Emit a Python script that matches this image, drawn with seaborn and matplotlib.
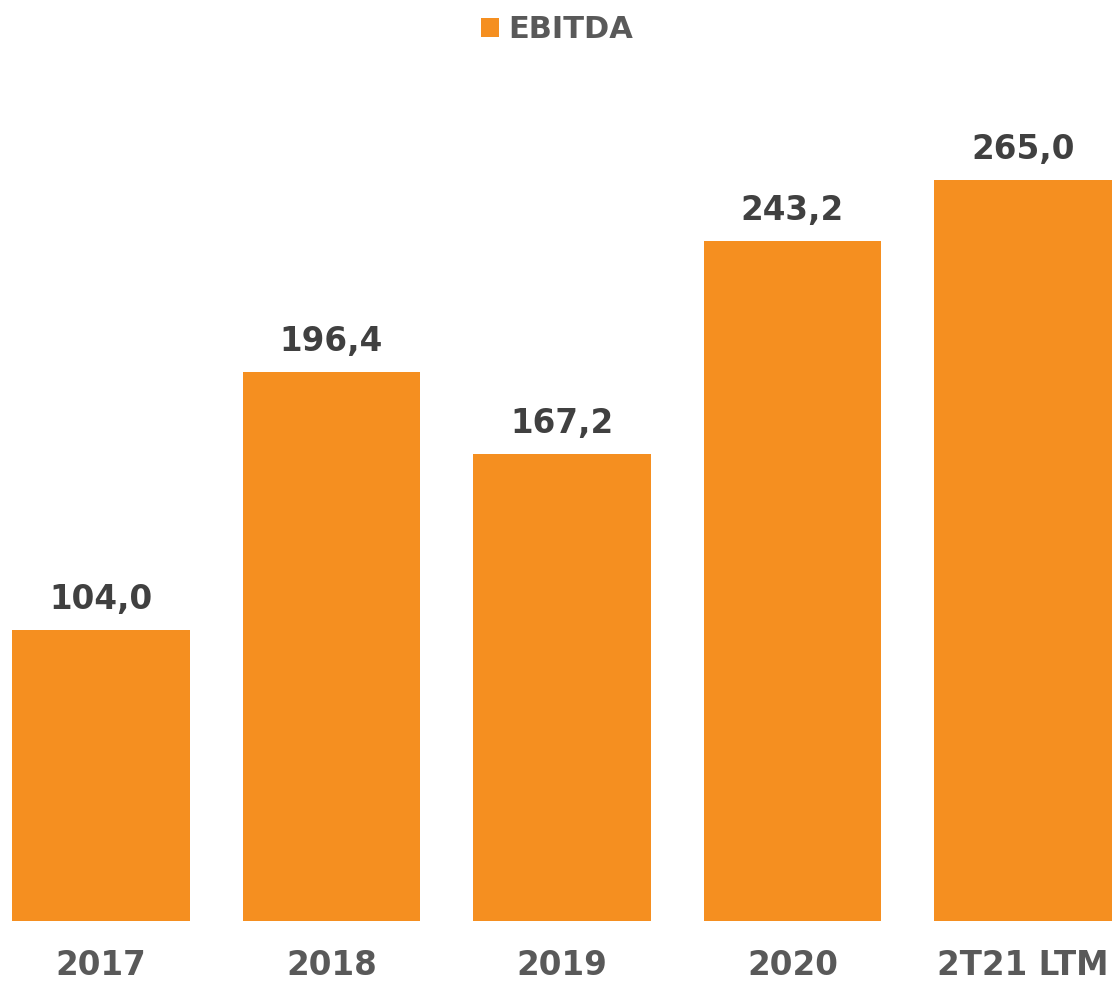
import matplotlib
matplotlib.use('Agg')
import matplotlib.pyplot as plt
import seaborn as sns
import pandas as pd

# Chart data
periods = ['2017', '2018', '2019', '2020', '2T21 LTM']
ebitda = [104.0, 196.4, 167.2, 243.2, 265.0]
series_name = 'EBITDA'

df = pd.DataFrame({'period': periods, 'value': ebitda, 'series': series_name})

sns.set_theme(style='white')
plt.rcParams['font.family'] = ['DejaVu Sans']

orange = '#F58F20'
fig = plt.figure(figsize=(11.14, 9.83), dpi=100)
ax = fig.add_axes([0, 62 / 983, 1, 921 / 983])

sns.barplot(data=df, x='period', y='value', hue='series', palette=[orange],
            width=0.77, saturation=1, linewidth=0, ax=ax)

ax.set_xlim(-0.438, 4.395)
ax.set_ylim(0, 329.4)

labels = [f'{v:.1f}'.replace('.', ',') for v in ebitda]
ax.bar_label(ax.containers[0], labels=labels, padding=10,
             fontsize=23.5, fontweight='bold', color='#404040')

for s in ax.spines.values():
    s.set_visible(False)
ax.set_yticks([])
ax.set_xlabel('')
ax.set_ylabel('')
ax.tick_params(axis='x', length=0, pad=20)
for t in ax.get_xticklabels():
    t.set_fontsize(23.5)
    t.set_fontweight('bold')
    t.set_color('#595959')

leg = ax.legend(loc='center', bbox_to_anchor=(0.5, 1 - 30 / 983),
                bbox_transform=fig.transFigure, frameon=False,
                handlelength=0.58, handleheight=0.58, handletextpad=0.32,
                prop={'weight': 'bold', 'size': 22})
for t in leg.get_texts():
    t.set_color('#595959')

fig.savefig('out.png', dpi=100)
